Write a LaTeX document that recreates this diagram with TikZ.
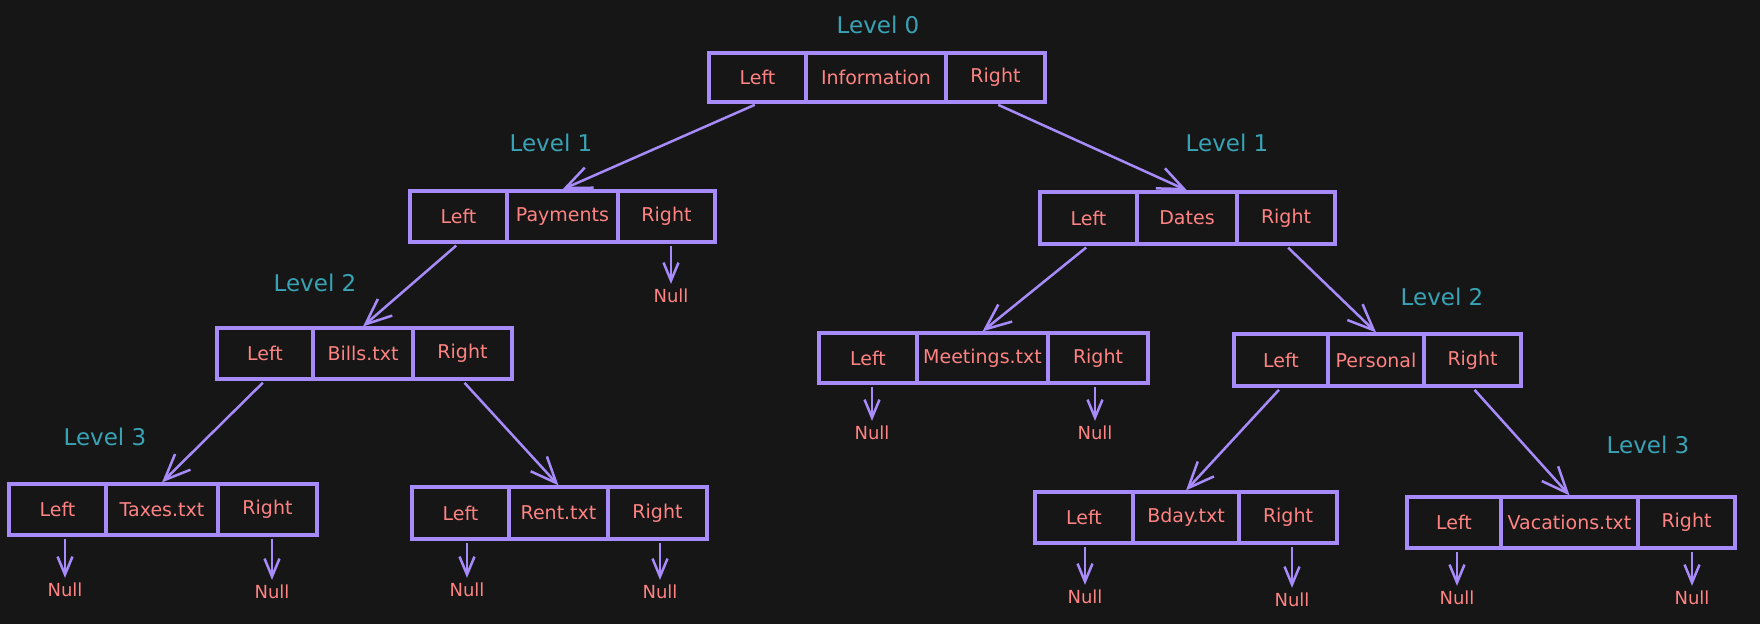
\documentclass[tikz,border=0pt]{standalone}
\usepackage{fontspec}
\setmainfont{DejaVu Sans}
\usetikzlibrary{arrows.meta}
\definecolor{bg}{HTML}{161616}
\definecolor{vio}{HTML}{A78BFA}
\definecolor{txt}{HTML}{FF8383}
\definecolor{lvl}{HTML}{38A3B5}
\tikzset{
  cell/.style={draw=vio, line width=3.2pt, text=txt, inner sep=0pt,
    font=\fontsize{19}{21}\selectfont},
  link/.style={draw=vio, line width=2.5pt, shorten <=3pt,
    -{Straight Barb[length=26pt,width=22pt,line width=2.5pt]}},
  nullarr/.style={draw=vio, line width=2.5pt, shorten <=2pt, shorten >=3pt,
    -{Straight Barb[length=18pt,width=15pt,line width=2.5pt]}},
  nulltext/.style={text=txt, inner sep=2pt, font=\fontsize{18}{20}\selectfont},
  lvltext/.style={text=lvl, inner sep=0pt, font=\fontsize{23}{25}\selectfont}
}
\newcommand\myrec[8]{%
  \node[cell, minimum width={(#3-#2)*1pt}, minimum height={(#7-#6)*1pt}] (#1L) at ({(#2+#3)/2},{(#6+#7)/2}) {Left};
  \node[cell, minimum width={(#4-#3)*1pt}, minimum height={(#7-#6)*1pt}] (#1C) at ({(#3+#4)/2},{(#6+#7)/2}) {#8};
  \node[cell, minimum width={(#5-#4)*1pt}, minimum height={(#7-#6)*1pt}] (#1R) at ({(#4+#5)/2},{(#6+#7)/2}) {Right};
}
\begin{document}
\begin{tikzpicture}[x=1pt, y=-1pt]
\fill[bg] (0,0) rectangle (1760,624);
\useasboundingbox (0,0) rectangle (1760,624);

% records
\myrec{r}{709}{806}{946}{1045}{53}{102}{Information}
\myrec{p}{410}{507}{618}{715}{191}{242}{Payments}
\myrec{d}{1040}{1137}{1237}{1335}{192}{244}{Dates}
\myrec{b}{217}{313}{413}{512}{328}{379}{Bills.txt}
\myrec{m}{819}{917}{1048}{1148}{333}{383}{Meetings.txt}
\myrec{s}{1234}{1328}{1424}{1521}{334}{386}{Personal}
\myrec{t}{9}{106}{218}{317}{484}{535}{Taxes.txt}
\myrec{n}{412}{509}{608}{707}{487}{539}{Rent.txt}
\myrec{y}{1035}{1133}{1239}{1337}{492}{543}{Bday.txt}
\myrec{v}{1407}{1501}{1638}{1735}{497}{548}{Vacations.txt}

% level labels
\node[lvltext] (l0) at (878,25) {Level 0};
\node[lvltext] (l1a) at (551,143) {Level 1};
\node[lvltext] (l1b) at (1227,143) {Level 1};
\node[lvltext] (l2a) at (315,283) {Level 2};
\node[lvltext] (l2b) at (1442,297) {Level 2};
\node[lvltext] (l3a) at (105,437) {Level 3};
\node[lvltext] (l3b) at (1648,445) {Level 3};

% null nodes
\node[nulltext] (pRn) at (671,296) {Null};
\node[nulltext] (tLn) at (65,590) {Null};
\node[nulltext] (tRn) at (272,592) {Null};
\node[nulltext] (nLn) at (467,590) {Null};
\node[nulltext] (nRn) at (660,592) {Null};
\node[nulltext] (mLn) at (872,433) {Null};
\node[nulltext] (mRn) at (1095,433) {Null};
\node[nulltext] (yLn) at (1085,597) {Null};
\node[nulltext] (yRn) at (1292,600) {Null};
\node[nulltext] (vLn) at (1457,598) {Null};
\node[nulltext] (vRn) at (1692,598) {Null};

% tree links
\draw[link] (rL.south) -- (pC.north);
\draw[link] (rR.south) -- (dC.north);
\draw[link] (pL.south) -- (bC.north);
\draw[link] (dL.south) -- (mC.north);
\draw[link] (dR.south) -- (sC.north);
\draw[link] (bL.south) -- (tC.north);
\draw[link] (bR.south) -- (nC.north);
\draw[link] (sL.south) -- (yC.north);
\draw[link] (sR.south) -- (vC.north);

% null arrows
\draw[nullarr] (pRn.north |- pR.south) -- (pRn.north);
\draw[nullarr] (tLn.north |- tL.south) -- (tLn.north);
\draw[nullarr] (tRn.north |- tR.south) -- (tRn.north);
\draw[nullarr] (nLn.north |- nL.south) -- (nLn.north);
\draw[nullarr] (nRn.north |- nR.south) -- (nRn.north);
\draw[nullarr] (mLn.north |- mL.south) -- (mLn.north);
\draw[nullarr] (mRn.north |- mR.south) -- (mRn.north);
\draw[nullarr] (yLn.north |- yL.south) -- (yLn.north);
\draw[nullarr] (yRn.north |- yR.south) -- (yRn.north);
\draw[nullarr] (vLn.north |- vL.south) -- (vLn.north);
\draw[nullarr] (vRn.north |- vR.south) -- (vRn.north);
\end{tikzpicture}
\end{document}
